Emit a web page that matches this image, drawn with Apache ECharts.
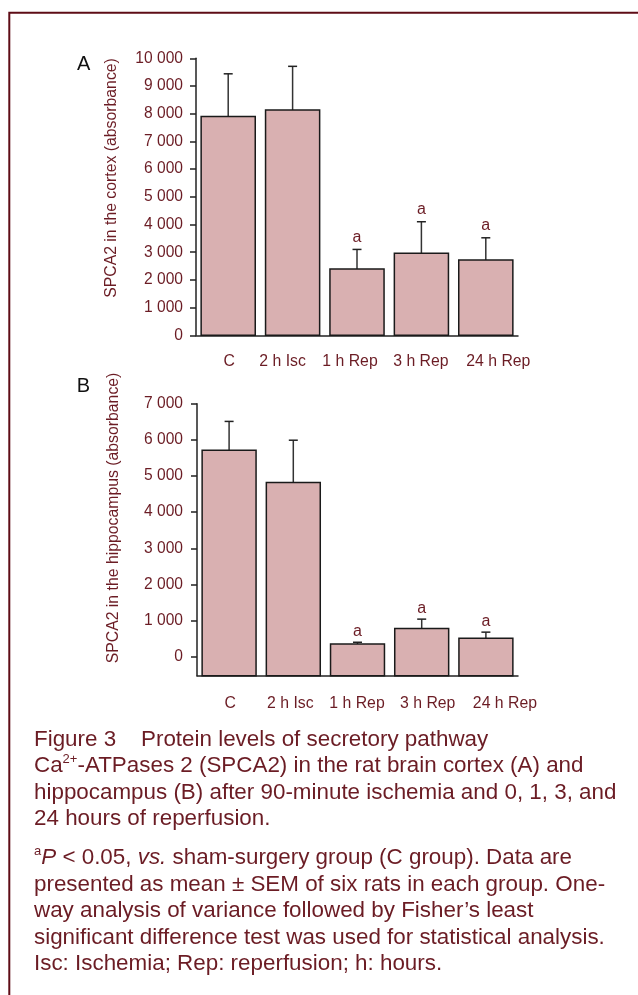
<!DOCTYPE html>
<html>
<head>
<meta charset="utf-8">
<script src="https://cdn.jsdelivr.net/npm/echarts@6/dist/echarts.min.js"></script>
<style>
html,body{margin:0;padding:0;background:#fff;}
#chart{width:638px;height:995px;}
</style>
</head>
<body>
<div id="chart"></div>
<script>
// ---- data ----
const categories = ['C', '2 h Isc', '1 h Rep', '3 h Rep', '24 h Rep'];
const cortexMean = [7900, 8130, 2390, 2960, 2720];
const cortexSem  = [1540, 1580, 710, 1140, 800];
const cortexSig  = ['', '', 'a', 'a', 'a'];
const hippoMean  = [5710, 4820, 350, 780, 510];
const hippoSem   = [800, 1170, 50, 260, 170];
const hippoSig   = ['', '', 'a', 'a', 'a'];
const cortexTicks = [0, 1000, 2000, 3000, 4000, 5000, 6000, 7000, 8000, 9000, 10000];
const hippoTicks  = [0, 1000, 2000, 3000, 4000, 5000, 6000, 7000];
const cortexTickLabels = ['0', '1 000', '2 000', '3 000', '4 000', '5 000', '6 000', '7 000', '8 000', '9 000', '10 000'];
const hippoTickLabels  = ['0', '1 000', '2 000', '3 000', '4 000', '5 000', '6 000', '7 000'];
const cortexTitle = 'SPCA2 in the cortex (absorbance)';
const hippoTitle  = 'SPCA2 in the hippocampus (absorbance)';
const captionPara1 = [
  'Figure 3    Protein levels of secretory pathway',
  'Ca{sup|2+}-ATPases 2 (SPCA2) in the rat brain cortex (A) and',
  'hippocampus (B) after 90-minute ischemia and 0, 1, 3, and',
  '24 hours of reperfusion.'
];
const captionPara2 = [
  '{sup|a}{it|P} < 0.05, {it|vs.} sham-surgery group (C group). Data are',
  'presented as mean \u00b1 SEM of six rats in each group. One-',
  'way analysis of variance followed by Fisher\u2019s least',
  'significant difference test was used for statistical analysis.',
  'Isc: Ischemia; Rep: reperfusion; h: hours.'
];

// ---- layout / style ----
const FONT = "'Liberation Sans', Arial, sans-serif";
const MAROON = '#6b1c24';
const AXIS = '#222';
const BAR_FILL = '#d9b0b1';
const CAP_SIZE = 22.4;
const hippoAxisMin = -525;
const labelShiftA = [1, -10, -7, -0.5, 12.5];
const labelShiftB = [1, -3, -0.5, 6, 19];

function catData(shifts) {
  return categories.map((c, i) => {
    const s = shifts[i];
    return { value: c, textStyle: { padding: s >= 0 ? [0, 0, 0, 2 * s] : [0, -2 * s, 0, 0] } };
  });
}

function makeRender(baseValue, sig, gap) {
  return function (params, api) {
    const i = api.value(0);
    const mean = api.value(1);
    const sem = api.value(2);
    const base = api.coord([i, baseValue]);
    const top = api.coord([i, mean]);
    const err = api.coord([i, mean + sem]);
    const bw = api.size([1, 0])[0] * 0.84;
    const x = top[0];
    const children = [
      { type: 'line', shape: { x1: x, y1: top[1], x2: x, y2: err[1] }, style: { stroke: '#333', lineWidth: 1.5 } },
      { type: 'line', shape: { x1: x - 4.5, y1: err[1], x2: x + 4.5, y2: err[1] }, style: { stroke: '#222', lineWidth: 1.5 } },
      { type: 'rect', shape: { x: x - bw / 2, y: top[1], width: bw, height: base[1] - top[1] },
        style: { fill: BAR_FILL, stroke: '#1a1a1a', lineWidth: 1.5 } }
    ];
    if (sig[i]) {
      children.push({ type: 'text', style: { x: x, y: err[1] - gap, text: sig[i], align: 'center',
        verticalAlign: 'bottom', fill: MAROON, fontSize: 16, fontFamily: FONT } });
    }
    return { type: 'group', children: children };
  };
}

function xAxisCfg(gi, shifts, margin) {
  return {
    gridIndex: gi, type: 'category', data: catData(shifts), boundaryGap: true,
    axisLine: { onZero: false, lineStyle: { color: AXIS, width: 1.5 } },
    axisTick: { inside: true, length: 8, alignWithLabel: false, lineStyle: { color: AXIS, width: 1.5 } },
    axisLabel: { color: MAROON, fontSize: 15.8, fontFamily: FONT, margin: margin, interval: 0 },
    splitLine: { show: false }
  };
}

const rich = {
  sup: { fontSize: 13, fontFamily: FONT, fill: MAROON, color: MAROON, verticalAlign: 'top', lineHeight: 10 },
  it: { fontSize: CAP_SIZE, fontFamily: FONT, fontStyle: 'italic', fill: MAROON, color: MAROON }
};

const graphics = [
  { type: 'rect', shape: { x: 9.3, y: 12.8, width: 800, height: 1200 }, style: { fill: 'none', stroke: '#5e0c16', lineWidth: 2 }, silent: true },
  { type: 'text', style: { x: 83.7, y: 64.5, text: 'A', fontSize: 20, fontFamily: FONT, fill: '#111', align: 'center', verticalAlign: 'middle' } },
  { type: 'text', style: { x: 83.4, y: 386, text: 'B', fontSize: 20, fontFamily: FONT, fill: '#111', align: 'center', verticalAlign: 'middle' } },
  { type: 'text', x: 112, y: 178, rotation: Math.PI / 2, style: { x: 0, y: 0, text: cortexTitle, fontSize: 15.8, fontFamily: FONT, fill: MAROON, align: 'center', verticalAlign: 'middle' } },
  { type: 'text', x: 114, y: 518, rotation: Math.PI / 2, style: { x: 0, y: 0, text: hippoTitle, fontSize: 15.8, fontFamily: FONT, fill: MAROON, align: 'center', verticalAlign: 'middle' } }
];
captionPara1.forEach((t, k) => {
  graphics.push({ type: 'text', style: { x: 34, y: 739.5 + 26.5 * k, text: t, rich: rich, fontSize: CAP_SIZE, fontFamily: FONT,
    fill: MAROON, align: 'left', verticalAlign: 'middle', lineHeight: 26.5 } });
});
captionPara2.forEach((t, k) => {
  graphics.push({ type: 'text', style: { x: 34, y: 858 + 26.5 * k, text: t, rich: rich, fontSize: CAP_SIZE, fontFamily: FONT,
    fill: MAROON, align: 'left', verticalAlign: 'middle', lineHeight: 26.5 } });
});

const chart = echarts.init(document.getElementById('chart'), null, { renderer: 'canvas' });
chart.setOption({
  animation: false,
  backgroundColor: '#fff',
  grid: [
    { left: 196, top: 58.3, width: 322, height: 277 },
    { left: 197, top: 403.7, width: 321, height: 272 }
  ],
  xAxis: [xAxisCfg(0, labelShiftA, 18), xAxisCfg(1, labelShiftB, 20)],
  yAxis: [
    {
      gridIndex: 0, type: 'value', min: 0, max: 10000, interval: 1000,
      axisLine: { show: true, lineStyle: { color: AXIS, width: 1.5 } },
      axisTick: { show: true, length: 6, lineStyle: { color: AXIS, width: 1.5 }, customValues: cortexTicks },
      axisLabel: { color: MAROON, fontSize: 15.6, fontFamily: FONT, margin: 13, customValues: cortexTicks,
        formatter: v => cortexTickLabels[cortexTicks.indexOf(v)] },
      splitLine: { show: false }
    },
    {
      gridIndex: 1, type: 'value', min: hippoAxisMin, max: 7000,
      axisLine: { show: true, lineStyle: { color: AXIS, width: 1.5 } },
      axisTick: { show: true, length: 6, lineStyle: { color: AXIS, width: 1.5 }, customValues: hippoTicks },
      axisLabel: { color: MAROON, fontSize: 15.6, fontFamily: FONT, margin: 14, customValues: hippoTicks,
        formatter: v => hippoTickLabels[hippoTicks.indexOf(v)] },
      splitLine: { show: false }
    }
  ],
  series: [
    {
      type: 'custom', xAxisIndex: 0, yAxisIndex: 0,
      data: cortexMean.map((v, i) => [i, v, cortexSem[i]]),
      encode: { x: 0, y: 1 },
      renderItem: makeRender(0, cortexSig, 4)
    },
    {
      type: 'custom', xAxisIndex: 1, yAxisIndex: 1,
      data: hippoMean.map((v, i) => [i, v, hippoSem[i]]),
      encode: { x: 0, y: 1 },
      renderItem: makeRender(hippoAxisMin, hippoSig, 3)
    }
  ],
  graphic: graphics
});
</script>
</body>
</html>
